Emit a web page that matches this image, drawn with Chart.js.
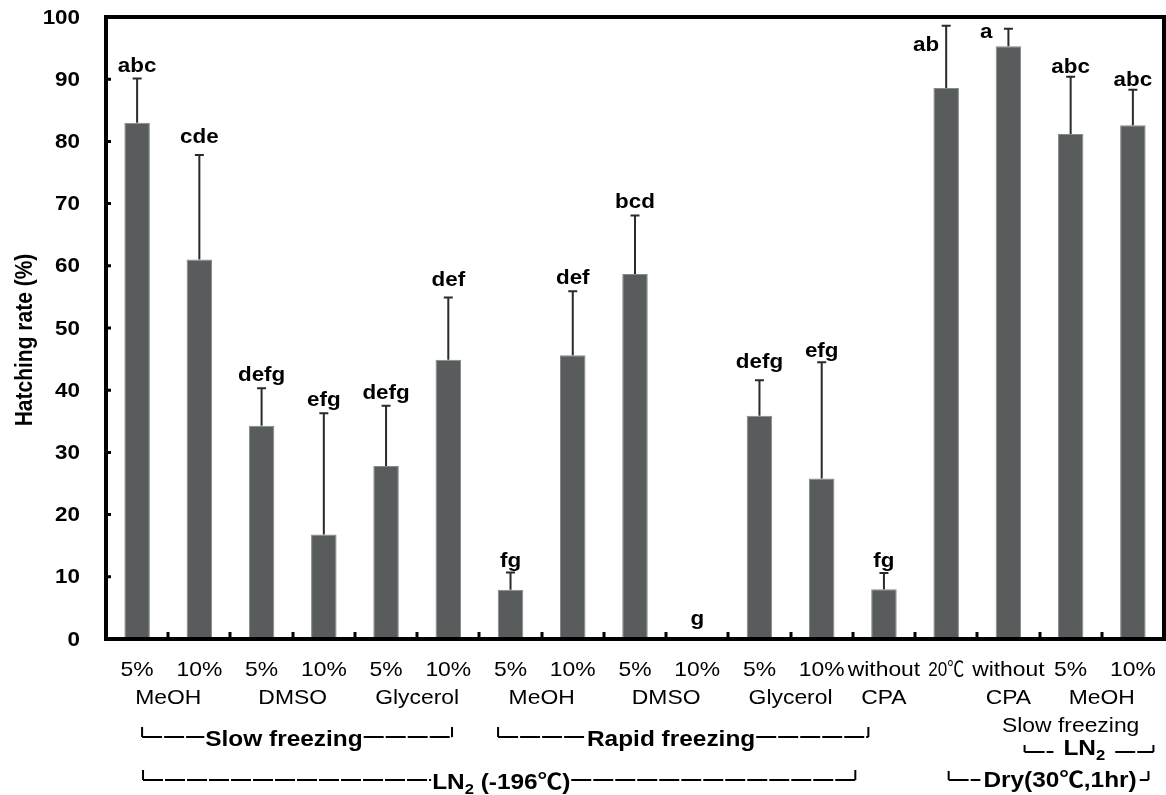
<!DOCTYPE html>
<html lang="en">
<head>
<meta charset="UTF-8">
<title>Hatching rate</title>
<script src="https://cdn.jsdelivr.net/npm/chart.js"></script>
<style>
  body { margin: 0; background: #fff; }
  canvas { display: block; }
</style>
</head>
<body>
<canvas id="hatchChart" width="1166" height="795"></canvas>
<script>
// values
const doses = ['5%', '10%', '5%', '10%', '5%', '10%', '5%', '10%', '5%', '10%', '5%', '10%', 'without', '20℃', 'without', '5%', '10%'];
const hatching = [83.0, 61.0, 34.3, 16.8, 27.8, 44.9, 7.9, 45.6, 58.7, 0, 35.9, 25.8, 8.0, 88.6, 95.3, 81.2, 82.6];
const sd = [7.1, 16.8, 6.0, 19.5, 9.7, 10.0, 2.8, 10.3, 9.4, 0, 5.7, 18.7, 2.6, 10.0, 2.8, 9.2, 5.7];
const letters = ['abc', 'cde', 'defg', 'efg', 'defg', 'def', 'fg', 'def', 'bcd', 'g', 'defg', 'efg', 'fg', 'ab', 'a', 'abc', 'abc'];
const yTicks = [0, 10, 20, 30, 40, 50, 60, 70, 80, 90, 100];

// second / third row of x labels (span of categories)
const groupLabels = ['MeOH', 'DMSO', 'Glycerol', 'MeOH', 'DMSO', 'Glycerol', 'CPA', 'CPA', 'MeOH'];
const groupFrom = [0, 2, 4, 6, 8, 10, 12, 14, 15];
const groupTo = [1, 3, 5, 7, 9, 11, 12, 14, 16];
const subGroupLabels = ['Slow freezing'];
const subGroupFrom = [14];
const subGroupTo = [16];

const FONT = '"Liberation Sans", Arial, "Noto Sans CJK JP", "DejaVu Sans", sans-serif';
const BAR_COLOR = '#595c5c';

// draw text squeezed/stretched horizontally like the original figure
function stretchText(ctx, str, x, y, align, sx, maxW) {
    ctx.save();
    ctx.translate(x, y);
    ctx.scale(sx, 1);
    ctx.textAlign = align;
    if (maxW) ctx.fillText(str, 0, 0, maxW / sx);
    else ctx.fillText(str, 0, 0);
    ctx.restore();
}

// text with a subscript part, centred at cx; returns [left, right]
function richText(ctx, parts, cx, y, size, sx) {
    let total = 0;
    parts.forEach(p => {
        ctx.font = 'bold ' + (p.sub ? size * 0.68 : size) + 'px ' + FONT;
        p.w = ctx.measureText(p.t).width * sx;
        total += p.w;
    });
    let x = cx - total / 2;
    const left = x;
    parts.forEach(p => {
        ctx.font = 'bold ' + (p.sub ? size * 0.68 : size) + 'px ' + FONT;
        stretchText(ctx, p.t, x, p.sub ? y + 5 : y, 'left', sx);
        x += p.w;
    });
    return [left, x];
}

// bracket rows below the axis, positions given as category index
const brackets = [
    { parts: [{ t: 'Slow freezing' }], from: 0.08, to: 5.06, mid: 2.36, line: 737, base: 746, up: 10, gap: 1 },
    { parts: [{ t: 'Rapid freezing' }], from: 5.80, to: 11.75, mid: 8.58, line: 737, base: 746, up: 10, gap: 1 },
    { parts: [{ t: 'LN' }, { t: '2', sub: true }], from: 14.26, to: 16.33, mid: 15.22, line: 752, base: 755, up: 7, gap: 10 },
    { parts: [{ t: 'LN' }, { t: '2', sub: true }, { t: ' (-196℃)' }], from: 0.095, to: 11.54, mid: 5.85, line: 780, base: 789, up: 10, gap: 1 },
    { parts: [{ t: 'Dry(30℃,1hr)' }], from: 13.04, to: 16.25, mid: 14.83, line: 780, base: 787, up: 9, gap: 3 }
];

// letter placement tweaks: dy = baseline offset from top of error bar
const letterTweaks = {
    1: { dy: -12 }, 5: { dy: -12 }, 10: { dy: -12 },
    6: { dy: -5 }, 11: { dy: -5 }, 12: { dy: -6 },
    13: { dx: -7, dy: 25, align: 'right' },
    14: { dx: -16, dy: 9, align: 'right' },
    15: { dy: -4 }, 16: { dy: -4 },
    9: { dy: -14 }
};

const figurePlugin = {
    id: 'figure',
    afterDatasetsDraw(chart) {
        const ctx = chart.ctx;
        const ys = chart.scales.y;
        const meta = chart.getDatasetMeta(0);
        ctx.save();

        // error bars (upper only)
        ctx.strokeStyle = '#2a2a2a';
        ctx.lineWidth = 2;
        meta.data.forEach((bar, i) => {
            if (!sd[i]) return;
            const y0 = ys.getPixelForValue(hatching[i]);
            const y1 = ys.getPixelForValue(hatching[i] + sd[i]);
            ctx.beginPath();
            ctx.moveTo(bar.x, y0);
            ctx.lineTo(bar.x, y1);
            ctx.moveTo(bar.x - 4.5, y1);
            ctx.lineTo(bar.x + 4.5, y1);
            ctx.stroke();
        });

        // significance letters
        ctx.fillStyle = '#000';
        ctx.font = 'bold 20px ' + FONT;
        ctx.textBaseline = 'alphabetic';
        meta.data.forEach((bar, i) => {
            const tw = letterTweaks[i] || {};
            const top = ys.getPixelForValue(hatching[i] + sd[i]);
            const dy = tw.dy !== undefined ? tw.dy : -7;
            stretchText(ctx, letters[i], bar.x + (tw.dx || 0), top + dy, tw.align || 'center', 1.12);
        });
        ctx.restore();
    },
    afterDraw(chart) {
        const ctx = chart.ctx;
        const xs = chart.scales.x;
        const ys = chart.scales.y;
        const area = chart.chartArea;
        const step = xs.getPixelForValue(1) - xs.getPixelForValue(0);
        ctx.save();

        // frame and tick marks
        ctx.strokeStyle = '#000';
        ctx.lineWidth = 4;
        ctx.strokeRect(area.left, area.top, area.right - area.left, area.bottom - area.top);
        ctx.lineWidth = 3;
        ctx.beginPath();
        for (let i = 1; i < doses.length; i++) {
            const x = Math.round(xs.getPixelForValue(i) - step / 2);
            ctx.moveTo(x, area.bottom);
            ctx.lineTo(x, area.bottom - 7);
        }
        yTicks.forEach(v => {
            const y = ys.getPixelForValue(v);
            ctx.moveTo(area.left, y);
            ctx.lineTo(area.left + 5, y);
        });
        ctx.stroke();

        // y tick labels
        ctx.fillStyle = '#000';
        ctx.font = 'bold 20px ' + FONT;
        ctx.textBaseline = 'middle';
        yTicks.forEach(v => {
            stretchText(ctx, String(v), 80, ys.getPixelForValue(v) + 1, 'right', 1.12);
        });

        // y axis title
        ctx.save();
        ctx.translate(32, 340);
        ctx.rotate(-Math.PI / 2);
        ctx.scale(1, 1.12);
        ctx.textAlign = 'center';
        ctx.textBaseline = 'alphabetic';
        ctx.font = 'bold 21px ' + FONT;
        ctx.fillText('Hatching rate (%)', 0, 0);
        ctx.restore();

        // x labels, three rows
        ctx.textBaseline = 'alphabetic';
        ctx.font = '21px ' + FONT;
        doses.forEach((d, i) => {
            const maxW = d.includes('℃') ? 36 : null;
            stretchText(ctx, d, xs.getPixelForValue(i), 676, 'center', 1.09, maxW);
        });
        groupLabels.forEach((g, k) => {
            const cx = (xs.getPixelForValue(groupFrom[k]) + xs.getPixelForValue(groupTo[k])) / 2;
            stretchText(ctx, g, cx, 704, 'center', 1.09);
        });
        subGroupLabels.forEach((g, k) => {
            const cx = (xs.getPixelForValue(subGroupFrom[k]) + xs.getPixelForValue(subGroupTo[k])) / 2;
            stretchText(ctx, g, cx, 732, 'center', 1.09);
        });

        // brackets, drawn as em-dash runs
        ctx.lineWidth = 2;
        brackets.forEach(b => {
            const x0 = xs.getPixelForValue(b.from);
            const x1 = xs.getPixelForValue(b.to);
            const [tl, tr] = richText(ctx, b.parts, xs.getPixelForValue(b.mid), b.base, 22, 1.11);
            ctx.beginPath();
            ctx.moveTo(x0, b.line - b.up);
            ctx.lineTo(x0, b.line);
            ctx.moveTo(x1, b.line - b.up);
            ctx.lineTo(x1, b.line);
            ctx.stroke();
            ctx.setLineDash([20, 2]);
            ctx.beginPath();
            ctx.moveTo(x0, b.line);
            ctx.lineTo(tl - b.gap, b.line);
            ctx.moveTo(tr + b.gap, b.line);
            ctx.lineTo(x1, b.line);
            ctx.stroke();
            ctx.setLineDash([]);
        });
        ctx.restore();
    }
};

new Chart(document.getElementById('hatchChart'), {
    type: 'bar',
    data: {
        labels: doses,
        datasets: [{
            data: hatching,
            backgroundColor: BAR_COLOR,
            borderColor: '#858888',
            borderWidth: c => (hatching[c.dataIndex] ? 1 : 0),
            borderSkipped: 'bottom',
            barPercentage: 0.41,
            categoryPercentage: 1
        }]
    },
    options: {
        responsive: false,
        animation: false,
        layout: { padding: { top: 17, right: 2, left: 0, bottom: 0 } },
        plugins: { legend: { display: false }, tooltip: { enabled: false } },
        scales: {
            x: {
                offset: true,
                grid: { display: false, drawTicks: false },
                border: { display: false },
                ticks: { display: false },
                afterFit: s => { s.height = 156; }
            },
            y: {
                min: 0,
                max: 100,
                ticks: { display: false, stepSize: 10 },
                grid: { display: false, drawTicks: false },
                border: { display: false },
                afterFit: s => { s.width = 106; }
            }
        }
    },
    plugins: [figurePlugin]
});
</script>
</body>
</html>
